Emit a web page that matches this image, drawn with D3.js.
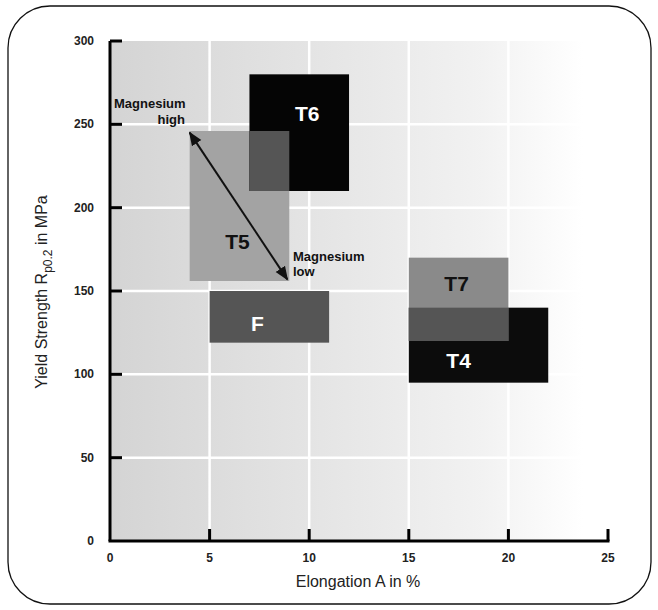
<!DOCTYPE html>
<html>
<head>
<meta charset="utf-8">
<script src="https://cdn.jsdelivr.net/npm/d3@7"></script>
<style>
  html, body { margin: 0; padding: 0; background: #fff; }
  svg { display: block; font-family: "Liberation Sans", Arial, sans-serif; }
</style>
</head>
<body>
<svg id="chart" width="658" height="610"></svg>
<script>
// ---- data ----
const treatments = ["T6", "T5", "F", "T7", "T4"];
const elongMin   = [7, 4, 5, 15, 15];
const elongMax   = [12, 9, 11, 20, 22];
const yieldMin   = [210, 156, 119, 120, 95];
const yieldMax   = [280, 246, 150, 170, 140];
const overlapPairs = [["T5", "T6"], ["T7", "T4"]];
const xTicks = [0, 5, 10, 15, 20, 25];
const yTicks = [0, 50, 100, 150, 200, 250, 300];
const arrowFrom = [4, 245];   // Magnesium high
const arrowTo   = [8.9, 157]; // Magnesium low

// ---- styles ----
const fills = { T6: "#050505", T5: "#a3a3a3", F: "#555555", T7: "#8a8a8a", T4: "#0c0c0c" };
const labelColor = { T6: "#fff", T5: "#111", F: "#fff", T7: "#111", T4: "#fff" };
const overlapFill = "#555555";
const drawOrder = ["T5", "T6", "F", "T4", "T7"];

const svg = d3.select("#chart");
const x = d3.scaleLinear().domain([0, 25]).range([110, 608]);
const y = d3.scaleLinear().domain([0, 300]).range([541, 41]);

// rounded frame
svg.append("rect").attr("x", 8).attr("y", 6).attr("width", 643).attr("height", 598)
  .attr("rx", 42).attr("ry", 42).attr("fill", "#fff").attr("stroke", "#111").attr("stroke-width", 1.3);

// background gradient
const defs = svg.append("defs");
const grad = defs.append("linearGradient").attr("id", "bg").attr("x1", "0").attr("x2", "1").attr("y1", "0").attr("y2", "0");
grad.append("stop").attr("offset", "0%").attr("stop-color", "#d4d4d4");
grad.append("stop").attr("offset", "40%").attr("stop-color", "#e4e4e4");
grad.append("stop").attr("offset", "75%").attr("stop-color", "#f2f2f2");
grad.append("stop").attr("offset", "95%").attr("stop-color", "#ffffff");
svg.append("rect").attr("x", x(0)).attr("y", y(300)).attr("width", x(25) - x(0)).attr("height", y(0) - y(300))
  .attr("fill", "url(#bg)");

// white grid lines
const g = svg.append("g");
g.selectAll(".vg").data(xTicks.filter(d => d > 0 && d < 25)).join("line")
  .attr("x1", d => x(d)).attr("x2", d => x(d)).attr("y1", y(300)).attr("y2", y(0))
  .attr("stroke", "#fff").attr("stroke-width", 2.5);
g.selectAll(".hg").data(yTicks.filter(d => d > 0 && d < 300)).join("line")
  .attr("x1", x(0)).attr("x2", x(25)).attr("y1", d => y(d)).attr("y2", d => y(d))
  .attr("stroke", "#fff").attr("stroke-width", 2.5);

// boxes
const boxes = treatments.map((t, i) => ({ t, x0: elongMin[i], x1: elongMax[i], y0: yieldMin[i], y1: yieldMax[i] }));
const byName = Object.fromEntries(boxes.map(b => [b.t, b]));
const ordered = drawOrder.map(n => byName[n]);
svg.append("g").selectAll("rect").data(ordered).join("rect")
  .attr("x", d => x(d.x0)).attr("y", d => y(d.y1))
  .attr("width", d => x(d.x1) - x(d.x0)).attr("height", d => y(d.y0) - y(d.y1))
  .attr("fill", d => fills[d.t]);

const overlaps = overlapPairs.map(([a, b]) => {
  const A = byName[a], B = byName[b];
  return { x0: Math.max(A.x0, B.x0), x1: Math.min(A.x1, B.x1), y0: Math.max(A.y0, B.y0), y1: Math.min(A.y1, B.y1) };
});
svg.append("g").selectAll("rect").data(overlaps).join("rect")
  .attr("x", d => x(d.x0)).attr("y", d => y(d.y1))
  .attr("width", d => x(d.x1) - x(d.x0)).attr("height", d => y(d.y0) - y(d.y1))
  .attr("fill", overlapFill);

// box labels
const labelPos = { T6: [9.9, 252], T5: [6.4, 175], F: [7.4, 126], T7: [17.4, 150], T4: [17.5, 104] };
svg.append("g").selectAll("text").data(treatments).join("text")
  .attr("x", d => x(labelPos[d][0])).attr("y", d => y(labelPos[d][1]))
  .attr("text-anchor", "middle").attr("font-size", 21).attr("font-weight", "bold")
  .attr("fill", d => labelColor[d]).text(d => d);

// arrow
const mk = defs.append("marker").attr("id", "ah").attr("viewBox", "0 0 10 10").attr("refX", 9).attr("refY", 5)
  .attr("markerWidth", 7).attr("markerHeight", 7).attr("orient", "auto-start-reverse");
mk.append("path").attr("d", "M0,1 L10,5 L0,9 Z").attr("fill", "#111");
svg.append("line").attr("x1", x(arrowFrom[0])).attr("y1", y(arrowFrom[1]))
  .attr("x2", x(arrowTo[0])).attr("y2", y(arrowTo[1]))
  .attr("stroke", "#111").attr("stroke-width", 2)
  .attr("marker-start", "url(#ah)").attr("marker-end", "url(#ah)");

// annotations
const ann = svg.append("g").attr("font-size", 13).attr("font-weight", "bold").attr("fill", "#111");
ann.append("text").attr("x", 114).attr("y", 108).text("Magnesium");
ann.append("text").attr("x", 185).attr("y", 124).attr("text-anchor", "end").text("high");
ann.append("text").attr("x", 293).attr("y", 261).text("Magnesium");
ann.append("text").attr("x", 293).attr("y", 276).text("low");

// axes
svg.append("line").attr("x1", x(0)).attr("x2", x(0)).attr("y1", y(300)).attr("y2", y(0))
  .attr("stroke", "#000").attr("stroke-width", 3);
svg.append("line").attr("x1", x(0) - 1.5).attr("x2", x(25) + 1.5).attr("y1", y(0)).attr("y2", y(0))
  .attr("stroke", "#000").attr("stroke-width", 3);
svg.append("g").selectAll("line").data(yTicks.filter(d => d > 0)).join("line")
  .attr("x1", x(0)).attr("x2", x(0) + 12).attr("y1", d => y(d)).attr("y2", d => y(d))
  .attr("stroke", "#000").attr("stroke-width", 3);
svg.append("g").selectAll("line").data(xTicks.filter(d => d > 0)).join("line")
  .attr("x1", d => x(d)).attr("x2", d => x(d)).attr("y1", y(0)).attr("y2", y(0) - 12)
  .attr("stroke", "#000").attr("stroke-width", 3);

const tl = svg.append("g").attr("font-size", 12).attr("font-weight", "bold").attr("fill", "#222");
tl.selectAll(".yt").data(yTicks).join("text")
  .attr("x", 94).attr("y", d => y(d) + 4).attr("text-anchor", "end").text(d => d);
tl.selectAll(".xt").data(xTicks).join("text")
  .attr("x", d => x(d)).attr("y", 562).attr("text-anchor", "middle").text(d => d);

// axis titles
svg.append("text").attr("x", 358).attr("y", 587).attr("text-anchor", "middle")
  .attr("font-size", 16).attr("fill", "#222").text("Elongation A in %");
const yt = svg.append("text").attr("transform", "translate(47,292) rotate(-90)").attr("text-anchor", "middle")
  .attr("font-size", 16).attr("fill", "#222");
yt.append("tspan").text("Yield Strength R");
yt.append("tspan").attr("dy", 5).attr("font-size", 12).text("p0.2");
yt.append("tspan").attr("dy", -5).text(" in MPa");
</script>
</body>
</html>
